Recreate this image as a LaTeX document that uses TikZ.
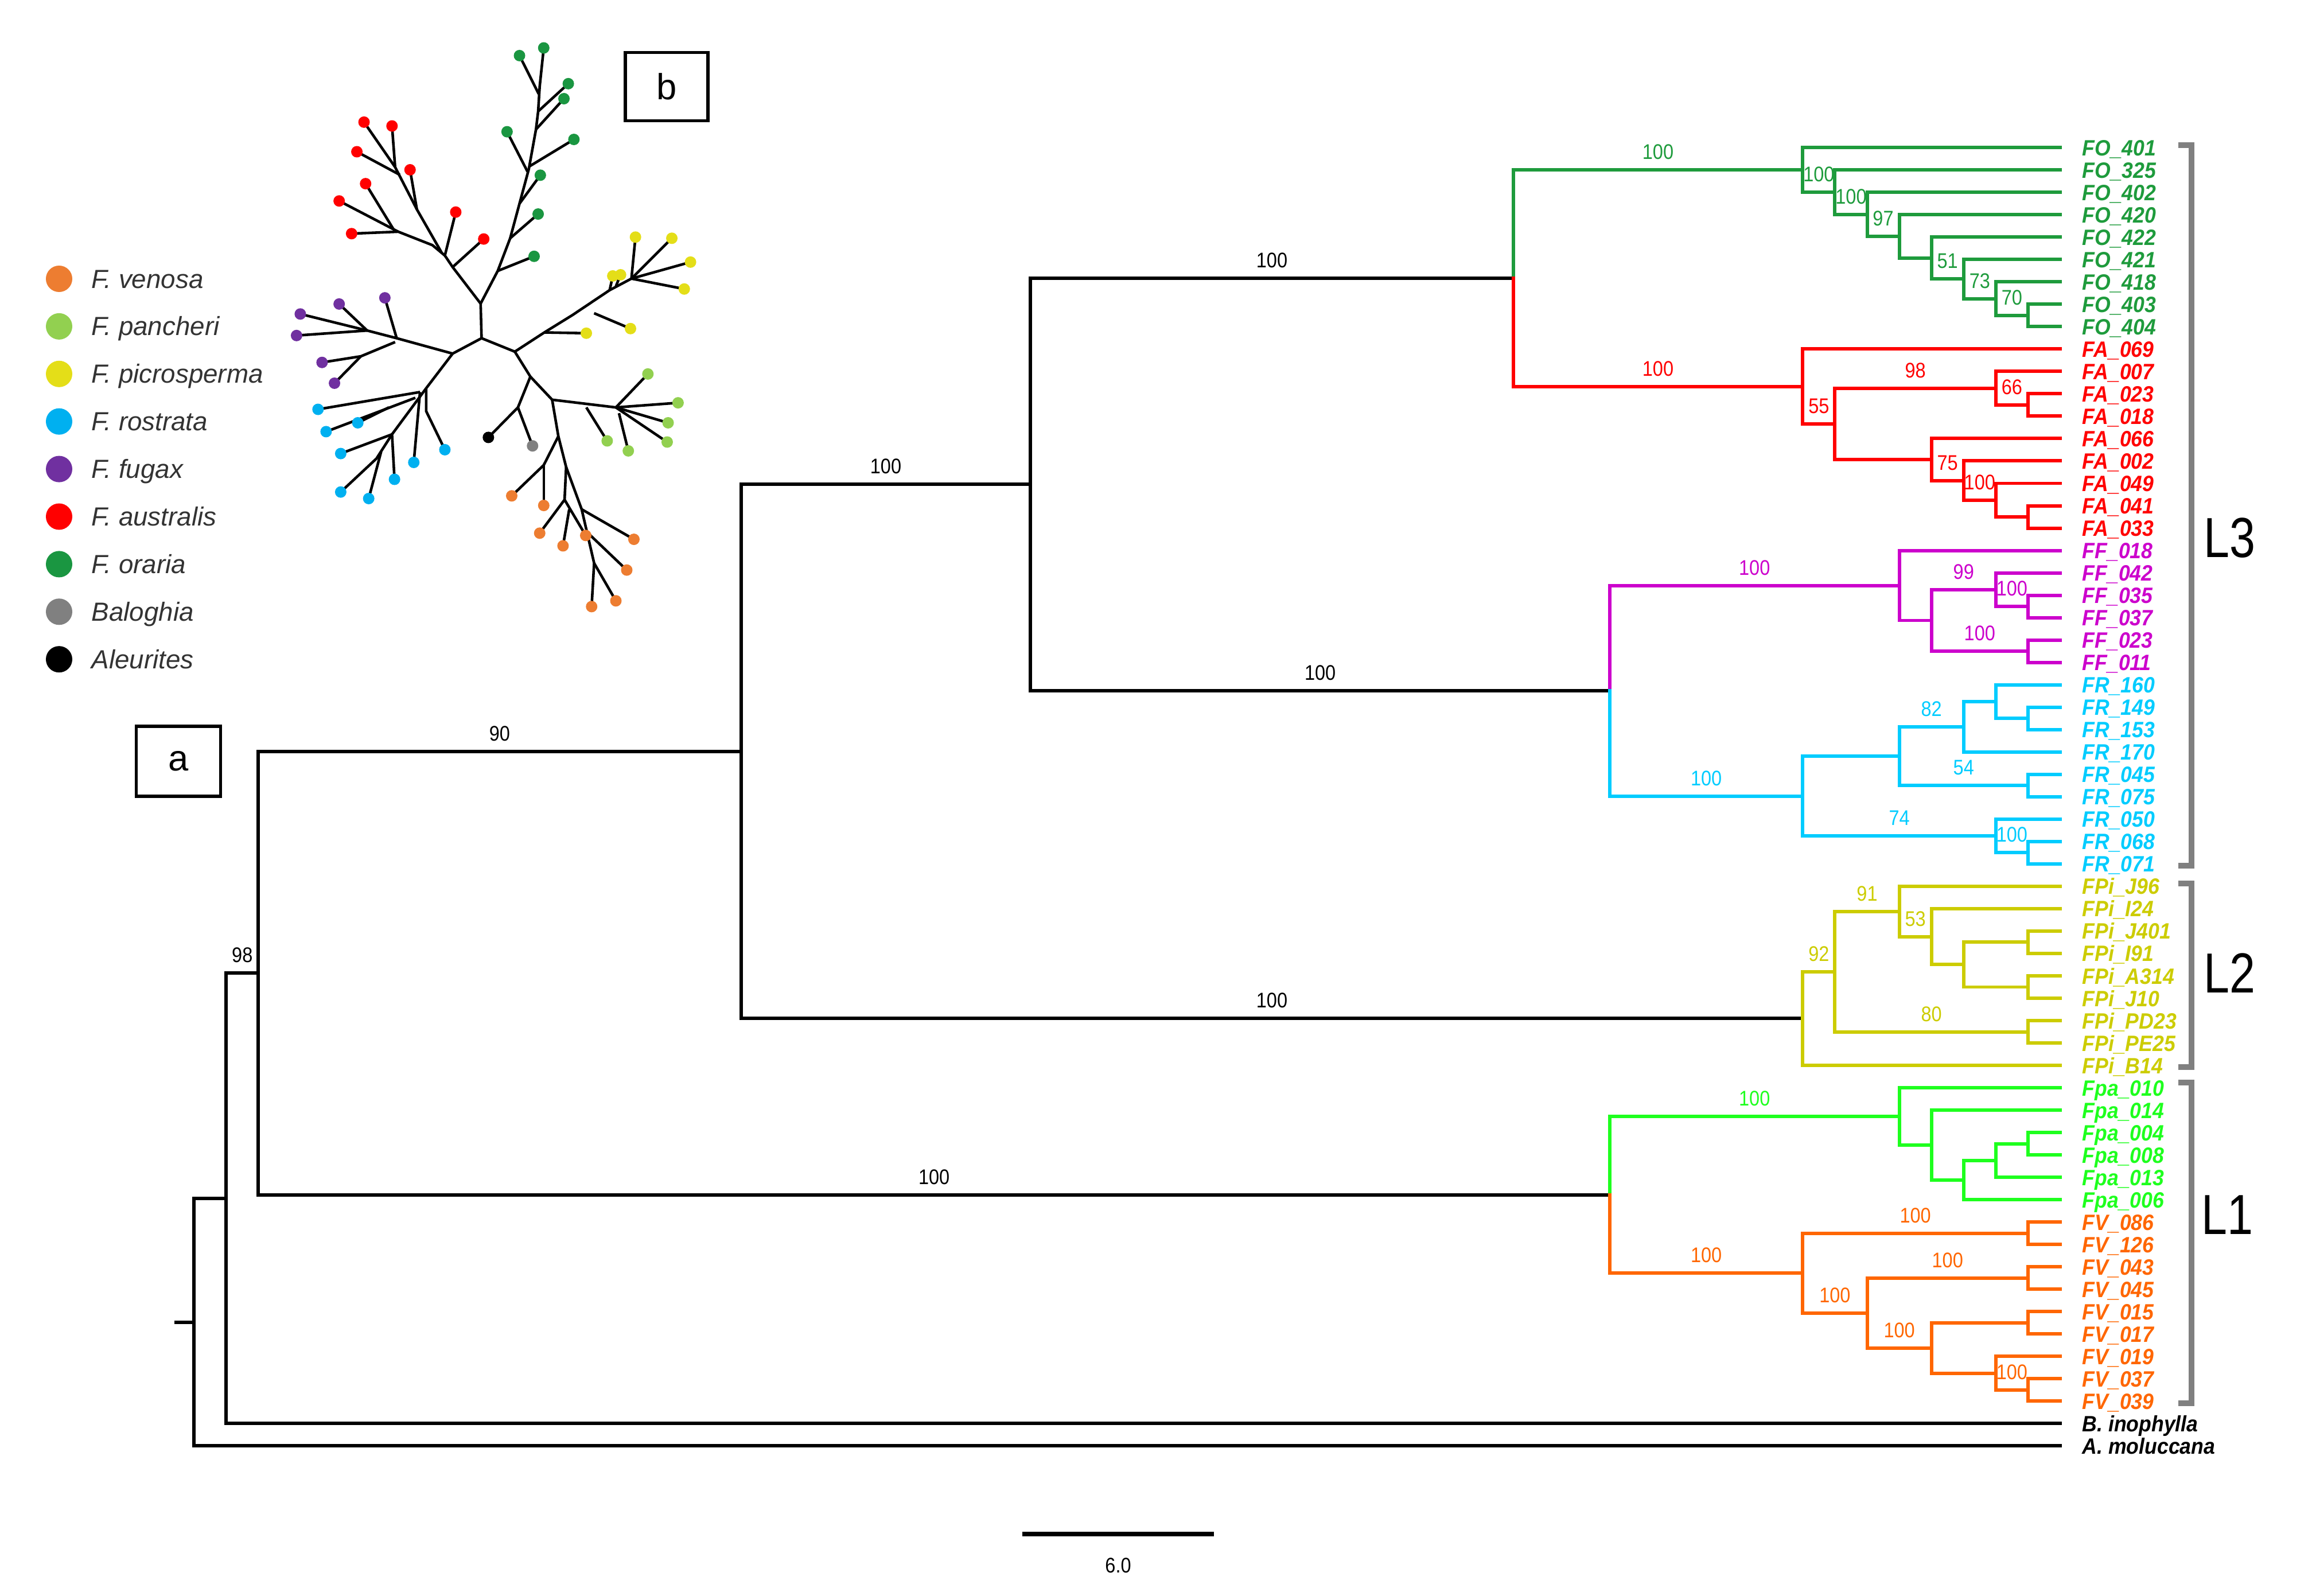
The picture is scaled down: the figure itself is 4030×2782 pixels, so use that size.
\documentclass[tikz,border=0pt]{standalone}
\usepackage{fontspec}
\setmainfont{Liberation Sans}
\newfontfamily\leaffont[FakeStretch=0.92]{Liberation Sans}
\newfontfamily\bsfont[FakeStretch=0.88]{Liberation Sans}
\newfontfamily\cladefont[FakeStretch=0.82]{Liberation Sans}
\usepackage{tikz}
\definecolor{foclr}{RGB}{30,155,60}
\definecolor{faclr}{RGB}{255,0,0}
\definecolor{ffclr}{RGB}{204,0,204}
\definecolor{frclr}{RGB}{0,204,255}
\definecolor{fpclr}{RGB}{204,204,0}
\definecolor{paclr}{RGB}{30,255,30}
\definecolor{fvclr}{RGB}{255,102,0}
\definecolor{venclr}{RGB}{237,125,49}
\definecolor{panclr}{RGB}{146,208,80}
\definecolor{picclr}{RGB}{228,222,24}
\definecolor{rosclr}{RGB}{0,176,240}
\definecolor{fugclr}{RGB}{112,48,160}
\definecolor{ausclr}{RGB}{255,0,0}
\definecolor{oraclr}{RGB}{26,150,65}
\definecolor{balclr}{RGB}{128,128,128}
\definecolor{brkclr}{RGB}{128,128,128}

\begin{document}
\begin{tikzpicture}[x=0.01cm, y=-0.01cm]
		\tikzstyle{every node} = [inner sep = 0pt]
		\tikzstyle{leaf} = [font = \leaffont\fontsize{11}{13}\selectfont\bfseries\itshape, anchor = base west, xshift = 3.8mm, yshift = -1.4mm]
		\tikzstyle{bs} = [font = \bsfont\fontsize{10.5}{12}\selectfont, anchor = base, yshift = 1.85mm]
		\tikzstyle{br} = [line width = 1.7pt, line cap = rect]
		\tikzstyle{bb} = [br, black]
		\tikzstyle{foc} = [br, foclr]
		\tikzstyle{fac} = [br, faclr]
		\tikzstyle{ffc} = [br, ffclr]
		\tikzstyle{frc} = [br, frclr]
		\tikzstyle{fpc} = [br, fpclr]
		\tikzstyle{pac} = [br, paclr]
		\tikzstyle{fvc} = [br, fvclr]
		\tikzstyle{brk} = [brkclr, line width = 2.6pt]
		\tikzstyle{clade} = [font = \cladefont\fontsize{28}{30}\selectfont]
		\tikzstyle{lgd} = [font = \fontsize{13}{15}\selectfont\itshape, text = black!80, anchor = base west]
		\tikzstyle{panel} = [draw, line width = 1.5pt, font = \fontsize{18}{20}\selectfont]
		\useasboundingbox (0,0) rectangle (4030,2782);

		\begin{scope}[xshift = 31.405cm, yshift = -2.57cm, x = 0.5605cm, y = -0.39cm]
				\foreach \id [count = \i from 0] in {401,325,402,420,422,421,418,403,404}
					{\coordinate (t\i) at (8,\i); \node[leaf, text = foclr] (l\i) at (t\i) {FO\_\id};}
				\foreach \id [count = \i from 9] in {069,007,023,018,066,002,049,041,033}
					{\coordinate (t\i) at (8,\i); \node[leaf, text = faclr] (l\i) at (t\i) {FA\_\id};}
				\foreach \id [count = \i from 18] in {018,042,035,037,023,011}
					{\coordinate (t\i) at (8,\i); \node[leaf, text = ffclr] (l\i) at (t\i) {FF\_\id};}
				\foreach \id [count = \i from 24] in {160,149,153,170,045,075,050,068,071}
					{\coordinate (t\i) at (8,\i); \node[leaf, text = frclr] (l\i) at (t\i) {FR\_\id};}
				\foreach \id [count = \i from 33] in {J96,I24,J401,I91,A314,J10,PD23,PE25,B14}
					{\coordinate (t\i) at (8,\i); \node[leaf, text = fpclr] (l\i) at (t\i) {FPi\_\id};}
				\foreach \id [count = \i from 42] in {010,014,004,008,013,006}
					{\coordinate (t\i) at (8,\i); \node[leaf, text = paclr] (l\i) at (t\i) {Fpa\_\id};}
				\foreach \id [count = \i from 48] in {086,126,043,045,015,017,019,037,039}
					{\coordinate (t\i) at (8,\i); \node[leaf, text = fvclr] (l\i) at (t\i) {FV\_\id};}
				\coordinate (t57) at (8,57);
				\node[leaf] (l57) at (t57) {B. inophylla};
				\coordinate (t58) at (8,58);
				\node[leaf] (l58) at (t58) {A. moluccana};

				\coordinate (stub) at (-50.55,52.4699);
				\coordinate (root) at (-50,52.4699);
				\coordinate (nB) at (-49,46.9398);
				\coordinate (n98) at (-48,36.8796);
				\coordinate (n90) at (-33,26.9780);
				\coordinate (nL3) at (-24,15.0498);
				\coordinate (nOA) at (-9,5.8340);
				\coordinate (nFR) at (-6,24.2656);
				\coordinate (nL1) at (-6,46.7813);

				\coordinate (fo0) at (0,0.99609);
				\coordinate (fo1) at (1,1.99219);
				\coordinate (fo2) at (2,2.98438);
				\coordinate (fo3) at (3,3.96875);
				\coordinate (fo4) at (4,4.9375);
				\coordinate (fo5) at (5,5.875);
				\coordinate (fo6) at (6,6.75);
				\coordinate (fo7) at (7,7.5);

				\coordinate (fa0) at (0,10.671875);
				\coordinate (fa1) at (1,12.34375);
				\coordinate (fa2) at (6,10.75);
				\coordinate (fa3) at (7,11.5);
				\coordinate (fa4) at (4,13.9375);
				\coordinate (fa5) at (5,14.875);
				\coordinate (fa6) at (6,15.75);
				\coordinate (fa7) at (7,16.5);

				\coordinate (ff0) at (3,19.5625);
				\coordinate (ff1) at (4,21.125);
				\coordinate (ff2) at (6,19.75);
				\coordinate (ff3) at (7,20.5);
				\coordinate (ff4) at (7,22.5);

				\coordinate (fr0) at (0,28.96875);
				\coordinate (fr1) at (3,27.1875);
				\coordinate (fr2) at (5,25.875);
				\coordinate (fr3) at (6,24.75);
				\coordinate (fr4) at (7,25.5);
				\coordinate (fr5) at (7,28.5);
				\coordinate (fr6) at (6,30.75);
				\coordinate (fr7) at (7,31.5);

				\coordinate (fp0) at (0,38.90625);
				\coordinate (fp1) at (1,36.8125);
				\coordinate (fp2) at (3,34.125);
				\coordinate (fp3) at (4,35.25);
				\coordinate (fp4) at (5,36.5);
				\coordinate (fp5) at (7,35.5);
				\coordinate (fp6) at (7,37.5);
				\coordinate (fp7) at (7,39.5);

				\coordinate (pa0) at (3,43.28125);
				\coordinate (pa1) at (4,44.5625);
				\coordinate (pa2) at (5,46.125);
				\coordinate (pa3) at (6,45.25);
				\coordinate (pa4) at (7,44.5);

				\coordinate (fv0) at (0,50.28125);
				\coordinate (fv1) at (7,48.5);
				\coordinate (fv2) at (2,52.0625);
				\coordinate (fv3) at (7,50.5);
				\coordinate (fv4) at (4,53.625);
				\coordinate (fv5) at (7,52.5);
				\coordinate (fv6) at (6,54.75);
				\coordinate (fv7) at (7,55.5);

				\path[draw, bb] (stub) -- (root);
				\path[draw, bb] (root) |- (nB) (root) |- (t58);
				\path[draw, bb] (nB) |- node[bs, pos = .75] {98} (n98) (nB) |- (t57);
				\path[draw, bb] (n98) |- node[bs, pos = .75] {90} (n90) (n98) |- node[bs, pos = .75] {100} (nL1);
				\path[draw, bb] (n90) |- node[bs, pos = .75] {100} (nL3) (n90) |- node[bs, pos = .75] {100} (fp0);
				\path[draw, bb] (nL3) |- node[bs, pos = .75] {100} (nOA) (nL3) |- node[bs, pos = .75] {100} (nFR);

				\path[draw, foc] (nOA) |- node[bs, pos = .75] {100} (fo0);
				\path[draw, foc] (fo0) |- (t0) (fo0) |- node[bs, pos = .75] {100} (fo1);
				\path[draw, foc] (fo1) |- (t1) (fo1) |- node[bs, pos = .75] {100} (fo2);
				\path[draw, foc] (fo2) |- (t2) (fo2) |- node[bs, pos = .75] {97} (fo3);
				\path[draw, foc] (fo3) |- (t3) (fo3) |- (fo4);
				\path[draw, foc] (fo4) |- (t4) (fo4) |- node[bs, pos = .75] {51} (fo5);
				\path[draw, foc] (fo5) |- (t5) (fo5) |- node[bs, pos = .75] {73} (fo6);
				\path[draw, foc] (fo6) |- (t6) (fo6) |- node[bs, pos = .75] {70} (fo7);
				\path[draw, foc] (fo7) |- (t7) (fo7) |- (t8);

				\path[draw, fac] (nOA) |- node[bs, pos = .75] {100} (fa0);
				\path[draw, fac] (fa0) |- (t9) (fa0) |- node[bs, pos = .75] {55} (fa1);
				\path[draw, fac] (fa1) |- node[bs, pos = .75] {98} (fa2) (fa1) |- (fa4);
				\path[draw, fac] (fa2) |- (t10) (fa2) |- node[bs, pos = .75] {66} (fa3);
				\path[draw, fac] (fa3) |- (t11) (fa3) |- (t12);
				\path[draw, fac] (fa4) |- (t13) (fa4) |- node[bs, pos = .75] {75} (fa5);
				\path[draw, fac] (fa5) |- (t14) (fa5) |- node[bs, pos = .75] {100} (fa6);
				\path[draw, fac] (fa6) |- (t15) (fa6) |- (fa7);
				\path[draw, fac] (fa7) |- (t16) (fa7) |- (t17);

				\path[draw, ffc] (nFR) |- node[bs, pos = .75] {100} (ff0);
				\path[draw, ffc] (ff0) |- (t18) (ff0) |- (ff1);
				\path[draw, ffc] (ff1) |- node[bs, pos = .75] {99} (ff2) (ff1) |- node[bs, pos = .75] {100} (ff4);
				\path[draw, ffc] (ff2) |- (t19) (ff2) |- node[bs, pos = .75] {100} (ff3);
				\path[draw, ffc] (ff3) |- (t20) (ff3) |- (t21);
				\path[draw, ffc] (ff4) |- (t22) (ff4) |- (t23);

				\path[draw, frc] (nFR) |- node[bs, pos = .75] {100} (fr0);
				\path[draw, frc] (fr0) |- (fr1) (fr0) |- node[bs, pos = .75] {74} (fr6);
				\path[draw, frc] (fr1) |- node[bs, pos = .75] {82} (fr2) (fr1) |- node[bs, pos = .75] {54} (fr5);
				\path[draw, frc] (fr2) |- (fr3) (fr2) |- (t27);
				\path[draw, frc] (fr3) |- (t24) (fr3) |- (fr4);
				\path[draw, frc] (fr4) |- (t25) (fr4) |- (t26);
				\path[draw, frc] (fr5) |- (t28) (fr5) |- (t29);
				\path[draw, frc] (fr6) |- (t30) (fr6) |- node[bs, pos = .75] {100} (fr7);
				\path[draw, frc] (fr7) |- (t31) (fr7) |- (t32);

				\path[draw, fpc] (fp0) |- node[bs, pos = .75] {92} (fp1) (fp0) |- (t41);
				\path[draw, fpc] (fp1) |- node[bs, pos = .75] {91} (fp2) (fp1) |- node[bs, pos = .75] {80} (fp7);
				\path[draw, fpc] (fp2) |- (t33) (fp2) |- node[bs, pos = .75] {53} (fp3);
				\path[draw, fpc] (fp3) |- (t34) (fp3) |- (fp4);
				\path[draw, fpc] (fp4) |- (fp5) (fp4) |- (fp6);
				\path[draw, fpc] (fp5) |- (t35) (fp5) |- (t36);
				\path[draw, fpc] (fp6) |- (t37) (fp6) |- (t38);
				\path[draw, fpc] (fp7) |- (t39) (fp7) |- (t40);

				\path[draw, pac] (nL1) |- node[bs, pos = .75] {100} (pa0);
				\path[draw, pac] (pa0) |- (t42) (pa0) |- (pa1);
				\path[draw, pac] (pa1) |- (t43) (pa1) |- (pa2);
				\path[draw, pac] (pa2) |- (pa3) (pa2) |- (t47);
				\path[draw, pac] (pa3) |- (pa4) (pa3) |- (t46);
				\path[draw, pac] (pa4) |- (t44) (pa4) |- (t45);

				\path[draw, fvc] (nL1) |- node[bs, pos = .75] {100} (fv0);
				\path[draw, fvc] (fv0) |- node[bs, pos = .75] {100} (fv1) (fv0) |- node[bs, pos = .75] {100} (fv2);
				\path[draw, fvc] (fv1) |- (t48) (fv1) |- (t49);
				\path[draw, fvc] (fv2) |- node[bs, pos = .75] {100} (fv3) (fv2) |- node[bs, pos = .75] {100} (fv4);
				\path[draw, fvc] (fv3) |- (t50) (fv3) |- (t51);
				\path[draw, fvc] (fv4) |- (fv5) (fv4) |- (fv6);
				\path[draw, fvc] (fv5) |- (t52) (fv5) |- (t53);
				\path[draw, fvc] (fv6) |- (t54) (fv6) |- node[bs, pos = .75] {100} (fv7);
				\path[draw, fvc] (fv7) |- (t55) (fv7) |- (t56);
		\end{scope}

		\path[draw, brk] (3797,253) -- (3820,253) -- (3820,1509) -- (3797,1509);
		\path[draw, brk] (3797,1540) -- (3820,1540) -- (3820,1860) -- (3797,1860);
		\path[draw, brk] (3797,1887) -- (3820,1887) -- (3820,2446) -- (3797,2446);
		\node[clade] (L3) at (3886,938) {L3};
		\node[clade] (L2) at (3886,1696) {L2};
		\node[clade] (L1) at (3882,2118) {L1};

		\coordinate (sb1) at (1782,2674);
		\coordinate (sb2) at (2116,2674);
		\path[draw, line width = 2.2pt] (sb1) -- (sb2);
		\node[font = \bsfont\fontsize{10.5}{12}\selectfont] (sbl) at (1949,2729) {6.0};

		\node[panel, minimum width = 1.47cm, minimum height = 1.22cm] (pa) at (311,1327) {a};
		\node[panel, minimum width = 1.44cm, minimum height = 1.19cm] (pb) at (1162,151) {b};

		\foreach \clr/\nm [count = \i from 0] in {venclr/F. venosa, panclr/F. pancheri, picclr/F. picrosperma, rosclr/F. rostrata, fugclr/F. fugax, ausclr/F. australis, oraclr/F. oraria, balclr/Baloghia, black/Aleurites}
			{\fill[\clr] (103,{486+82.9*\i}) circle[radius = 0.23cm];
			\node[lgd] (key\i) at (159,{502+82.9*\i}) {\nm};}

		\begin{scope}[xshift = 4.5cm, yshift = -0.5cm, x = 0.00542cm, y = -0.0067cm, line width = 1.3pt]
				\path[draw] (625,845) -- (718,805) -- (825,840);
				\path[draw] (718,805) -- (715,715);
				\path[draw] (715,715) -- (770,630) -- (810,545) -- (840,455) -- (870,365) -- (893,262) -- (900,215) -- (905,150) -- (918,50);
				\path[draw] (770,630) -- (887,592);
				\path[draw] (810,545) -- (900,482);
				\path[draw] (840,455) -- (907,381);
				\path[draw] (866,372) -- (800,268);
				\path[draw] (872,358) -- (1015,288);
				\path[draw] (893,262) -- (983,182);
				\path[draw] (900,215) -- (997,143);
				\path[draw] (902,170) -- (840,70);
				\path[draw] (715,715) -- (625,620) -- (600,590) -- (560,563) -- (450,528) -- (300,533);
				\path[draw] (625,620) -- (725,547);
				\path[draw] (600,590) -- (635,477);
				\path[draw] (450,528) -- (260,448);
				\path[draw] (435,522) -- (345,403);
				\path[draw] (590,583) -- (510,470) -- (440,360) -- (340,243);
				\path[draw] (440,360) -- (430,253);
				\path[draw] (455,380) -- (317,320);
				\path[draw] (510,470) -- (488,367);
				\path[draw] (625,845) -- (445,805) -- (350,785) -- (135,742);
				\path[draw] (445,805) -- (407,700);
				\path[draw] (350,785) -- (123,798);
				\path[draw] (350,785) -- (260,716);
				\path[draw] (440,815) -- (330,852) -- (205,868);
				\path[draw] (330,852) -- (245,922);
				\path[draw] (625,845) -- (540,935) -- (430,1055) -- (380,1118) -- (265,1205);
				\path[draw] (540,935) -- (540,995) -- (600,1095);
				\path[draw] (520,945) -- (500,1128);
				\path[draw] (520,945) -- (192,990);
				\path[draw] (505,960) -- (218,1048);
				\path[draw] (420,985) -- (320,1025);
				\path[draw] (430,1055) -- (438,1172);
				\path[draw] (430,1055) -- (265,1105);
				\path[draw] (395,1100) -- (355,1222);
				\path[draw] (825,840) -- (920,790) -- (1010,745) -- (1130,680) -- (1200,650);
				\path[draw] (920,790) -- (1055,792);
				\path[draw] (1080,740) -- (1197,780);
				\path[draw] (1200,650) -- (1213,542);
				\path[draw] (1200,650) -- (1330,545);
				\path[draw] (1200,650) -- (1390,607);
				\path[draw] (1200,650) -- (1370,677);
				\path[draw] (1130,680) -- (1140,643);
				\path[draw] (1150,670) -- (1165,640);
				\path[draw] (825,840) -- (875,905) -- (945,965);
				\path[draw] (875,905) -- (835,985) -- (740,1063);
				\path[draw] (835,985) -- (882,1085);
				\path[draw] (945,965) -- (1150,985);
				\path[draw] (1055,985) -- (1122,1072);
				\path[draw] (1150,985) -- (1253,898);
				\path[draw] (1150,985) -- (1350,973);
				\path[draw] (1150,985) -- (1318,1025);
				\path[draw] (1150,985) -- (1315,1075);
				\path[draw] (1160,1000) -- (1190,1098);
				\path[draw] (945,965) -- (965,1060) -- (990,1140) -- (1040,1250) -- (1080,1390) -- (1072,1503);
				\path[draw] (965,1060) -- (918,1135) -- (815,1215);
				\path[draw] (918,1135) -- (918,1240);
				\path[draw] (990,1140) -- (985,1225) -- (905,1312);
				\path[draw] (985,1225) -- (1053,1318);
				\path[draw] (1000,1250) -- (980,1345);
				\path[draw] (1040,1250) -- (1208,1328);
				\path[draw] (1058,1310) -- (1185,1408);
				\path[draw] (1080,1390) -- (1150,1488);
				\foreach \x/\y in {840/70, 918/50, 997/143, 983/182, 800/268, 1015/288, 907/381, 900/482, 887/592}
					\fill[oraclr] (\x,\y) circle[radius = 0.1cm];
				\foreach \x/\y in {340/243, 430/253, 317/320, 488/367, 345/403, 260/448, 300/533, 635/477, 725/547}
					\fill[ausclr] (\x,\y) circle[radius = 0.1cm];
				\foreach \x/\y in {135/742, 260/716, 407/700, 123/798, 205/868, 245/922}
					\fill[fugclr] (\x,\y) circle[radius = 0.1cm];
				\foreach \x/\y in {192/990, 218/1048, 320/1025, 265/1105, 600/1095, 500/1128, 438/1172, 265/1205, 355/1222}
					\fill[rosclr] (\x,\y) circle[radius = 0.1cm];
				\foreach \x/\y in {1213/542, 1330/545, 1390/607, 1370/677, 1140/643, 1165/640, 1197/780, 1055/792}
					\fill[picclr] (\x,\y) circle[radius = 0.1cm];
				\foreach \x/\y in {1253/898, 1350/973, 1318/1025, 1315/1075, 1122/1072, 1190/1098}
					\fill[panclr] (\x,\y) circle[radius = 0.1cm];
				\foreach \x/\y in {815/1215, 918/1240, 905/1312, 980/1345, 1053/1318, 1208/1328, 1185/1408, 1150/1488, 1072/1503}
					\fill[venclr] (\x,\y) circle[radius = 0.1cm];
				\fill[black] (740,1063) circle[radius = 0.1cm];
				\fill[balclr] (882,1085) circle[radius = 0.1cm];
		\end{scope}
\end{tikzpicture}
\end{document}
